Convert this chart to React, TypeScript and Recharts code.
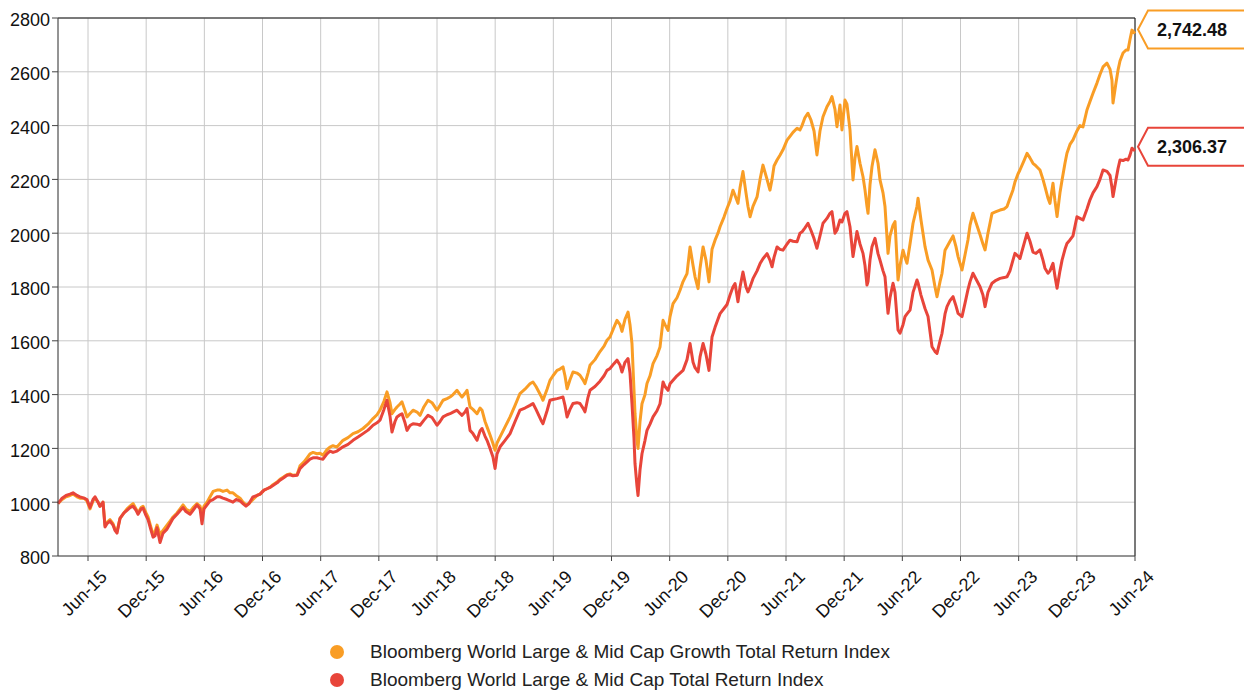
import {
  LineChart,
  Line,
  XAxis,
  YAxis,
  CartesianGrid,
  Legend,
  ReferenceLine,
} from "recharts";

// decimal years
const times = [
  2015.242, 2015.277, 2015.311, 2015.345, 2015.371, 2015.405, 2015.431, 2015.466, 2015.491, 2015.517,
  2015.543, 2015.56, 2015.586, 2015.603, 2015.629, 2015.646, 2015.663, 2015.689, 2015.715, 2015.732,
  2015.749, 2015.775, 2015.809, 2015.835, 2015.861, 2015.887, 2015.913, 2015.93, 2015.956, 2015.973,
  2015.999, 2016.016, 2016.042, 2016.059, 2016.076, 2016.093, 2016.119, 2016.145, 2016.179, 2016.205,
  2016.231, 2016.265, 2016.291, 2016.317, 2016.342, 2016.377, 2016.403, 2016.437, 2016.463, 2016.48,
  2016.497, 2016.523, 2016.549, 2016.575, 2016.609, 2016.635, 2016.66, 2016.695, 2016.721, 2016.746,
  2016.772, 2016.807, 2016.832, 2016.858, 2016.884, 2016.918, 2016.953, 2016.979, 2017.013, 2017.039,
  2017.064, 2017.09, 2017.125, 2017.15, 2017.185, 2017.211, 2017.236, 2017.262, 2017.297, 2017.322,
  2017.357, 2017.383, 2017.408, 2017.434, 2017.468, 2017.494, 2017.52, 2017.554, 2017.58, 2017.606,
  2017.64, 2017.692, 2017.735, 2017.778, 2017.821, 2017.864, 2017.907, 2017.95, 2017.984, 2018.01,
  2018.044, 2018.07, 2018.096, 2018.113, 2018.139, 2018.156, 2018.182, 2018.199, 2018.225, 2018.242,
  2018.268, 2018.294, 2018.328, 2018.354, 2018.388, 2018.423, 2018.457, 2018.5, 2018.526, 2018.552,
  2018.586, 2018.612, 2018.638, 2018.672, 2018.698, 2018.715, 2018.741, 2018.758, 2018.784, 2018.809,
  2018.844, 2018.87, 2018.887, 2018.913, 2018.93, 2018.956, 2018.981, 2018.999, 2019.016, 2019.042,
  2019.085, 2019.128, 2019.171, 2019.213, 2019.256, 2019.299, 2019.325, 2019.351, 2019.368, 2019.394,
  2019.411, 2019.446, 2019.471, 2019.497, 2019.532, 2019.557, 2019.583, 2019.6, 2019.618, 2019.643,
  2019.669, 2019.703, 2019.729, 2019.755, 2019.772, 2019.798, 2019.815, 2019.858, 2019.901, 2019.936,
  2019.961, 2019.987, 2020.021, 2020.047, 2020.073, 2020.09, 2020.116, 2020.142, 2020.159, 2020.176,
  2020.193, 2020.202, 2020.219, 2020.228, 2020.245, 2020.262, 2020.288, 2020.305, 2020.331, 2020.357,
  2020.391, 2020.417, 2020.443, 2020.46, 2020.486, 2020.503, 2020.529, 2020.563, 2020.589, 2020.615,
  2020.649, 2020.675, 2020.701, 2020.718, 2020.744, 2020.761, 2020.787, 2020.812, 2020.838, 2020.864,
  2020.89, 2020.915, 2020.933, 2020.967, 2020.993, 2021.019, 2021.044, 2021.062, 2021.087, 2021.105,
  2021.13, 2021.156, 2021.173, 2021.191, 2021.216, 2021.251, 2021.277, 2021.302, 2021.337, 2021.362,
  2021.38, 2021.397, 2021.423, 2021.448, 2021.474, 2021.509, 2021.534, 2021.56, 2021.595, 2021.62,
  2021.638, 2021.663, 2021.689, 2021.715, 2021.741, 2021.766, 2021.792, 2021.818, 2021.852, 2021.878,
  2021.895, 2021.921, 2021.938, 2021.964, 2021.981, 2022.007, 2022.024, 2022.05, 2022.076, 2022.093,
  2022.11, 2022.136, 2022.162, 2022.179, 2022.196, 2022.205, 2022.222, 2022.239, 2022.265, 2022.291,
  2022.308, 2022.334, 2022.351, 2022.377, 2022.394, 2022.42, 2022.437, 2022.463, 2022.48, 2022.506,
  2022.523, 2022.54, 2022.566, 2022.592, 2022.626, 2022.635, 2022.66, 2022.695, 2022.721, 2022.755,
  2022.781, 2022.798, 2022.824, 2022.841, 2022.867, 2022.884, 2022.91, 2022.936, 2022.961, 2022.979,
  2023.013, 2023.039, 2023.064, 2023.082, 2023.107, 2023.133, 2023.168, 2023.193, 2023.211, 2023.236,
  2023.271, 2023.305, 2023.34, 2023.374, 2023.4, 2023.425, 2023.451, 2023.468, 2023.494, 2023.511,
  2023.546, 2023.572, 2023.597, 2023.623, 2023.649, 2023.683, 2023.709, 2023.726, 2023.752, 2023.769,
  2023.795, 2023.812, 2023.83, 2023.855, 2023.873, 2023.898, 2023.915, 2023.941, 2023.967, 2024.001,
  2024.027, 2024.053, 2024.087, 2024.113, 2024.139, 2024.173, 2024.199, 2024.225, 2024.259, 2024.285,
  2024.302, 2024.311, 2024.337, 2024.354, 2024.371, 2024.397, 2024.423, 2024.44, 2024.457, 2024.474,
  2024.5,
];

const growth = [
  995, 1010, 1020, 1025, 1030, 1020, 1015, 1015, 1005, 975,
  1005, 1015, 1000, 985, 1000, 915, 925, 935, 920, 900,
  890, 940, 960, 975, 985, 995, 975, 960, 980, 985,
  960, 945, 905, 880, 890, 915, 880, 895, 915, 930,
  945, 960, 975, 990, 975, 965, 980, 995, 985, 960,
  985, 1000, 1020, 1040, 1045, 1045, 1040, 1045, 1035, 1035,
  1025, 1015, 1000, 990, 995, 1010, 1025, 1030, 1045, 1050,
  1055, 1065, 1075, 1085, 1095, 1102, 1105, 1100, 1102, 1135,
  1150, 1165, 1180, 1185, 1180, 1182, 1175, 1195, 1205, 1210,
  1205, 1230, 1240, 1255, 1262, 1274, 1290, 1311, 1325, 1342,
  1375, 1410, 1370, 1329, 1345, 1354, 1365, 1373, 1340, 1317,
  1330, 1342, 1335, 1323, 1355, 1379, 1370, 1342, 1360, 1379,
  1385, 1391, 1400, 1416, 1400, 1391, 1405, 1416, 1354, 1345,
  1329, 1350, 1342, 1300, 1280, 1250, 1218, 1193, 1220, 1243,
  1280, 1317, 1360, 1404, 1420, 1440, 1447, 1430, 1416, 1395,
  1379, 1420, 1453, 1470, 1490, 1495, 1503, 1470, 1422, 1455,
  1484, 1480, 1472, 1455, 1441, 1480, 1509, 1530, 1560, 1580,
  1602, 1614, 1650, 1676, 1660, 1635, 1680, 1707, 1660, 1590,
  1420, 1329, 1230, 1200, 1300, 1366, 1400, 1441, 1470, 1515,
  1545, 1577, 1676, 1660, 1639, 1690, 1738, 1760, 1788, 1820,
  1850, 1949, 1880, 1838, 1794, 1870, 1949, 1900, 1819, 1940,
  1974, 2000, 2024, 2060, 2092, 2120, 2160, 2140, 2111, 2170,
  2229, 2150, 2100, 2061, 2100, 2135, 2200, 2253, 2200, 2160,
  2200, 2250, 2272, 2290, 2310, 2346, 2360, 2375, 2390, 2384,
  2400, 2430, 2446, 2420, 2380, 2291, 2380, 2433, 2470, 2490,
  2508, 2460, 2396, 2477, 2384, 2495, 2480, 2384, 2198, 2280,
  2322, 2260, 2210, 2161, 2100, 2074, 2180, 2247, 2310, 2260,
  2198, 2150, 2099, 1925, 1990, 2030, 2043, 1826, 1880, 1937,
  1910, 1888, 1960, 2037, 2100, 2130, 2050, 1950, 1900, 1863,
  1800, 1764, 1820, 1851, 1937, 1950, 1970, 1990, 1950, 1913,
  1863, 1920, 1975, 2030, 2074, 2040, 1994, 1960, 1938, 2000,
  2074, 2080, 2086, 2090, 2099, 2130, 2161, 2190, 2220, 2235,
  2270, 2297, 2280, 2260, 2250, 2235, 2200, 2173, 2130, 2111,
  2186, 2120, 2062, 2150, 2198, 2260, 2297, 2330, 2347, 2380,
  2400, 2395, 2458, 2490, 2520, 2558, 2590, 2618, 2632, 2610,
  2569, 2484, 2560, 2606, 2640, 2670, 2681, 2681, 2720, 2755,
  2742.48,
];

const world = [
  995, 1015, 1025, 1030, 1035, 1025, 1020, 1015, 1010, 980,
  1010, 1020, 1000, 985, 1000, 908, 920, 930, 915, 895,
  885, 940, 960, 970, 980, 985, 970, 955, 975, 978,
  950, 935, 895, 870, 875, 905, 850, 885, 900, 920,
  940, 955, 968, 980, 965, 955, 970, 990, 975, 920,
  975, 990, 1005, 1010, 1020, 1020, 1015, 1010, 1005, 1000,
  1010, 1005, 995, 985, 995, 1020, 1025, 1030, 1045, 1050,
  1055, 1062, 1072, 1082, 1092, 1100, 1102, 1098, 1100, 1125,
  1140, 1150, 1160, 1165, 1165, 1162, 1160, 1180, 1190, 1185,
  1190, 1206, 1215, 1230, 1242, 1255, 1268, 1286, 1295, 1305,
  1345, 1379, 1320, 1261, 1300, 1317, 1325, 1329, 1295, 1267,
  1285, 1292, 1290, 1286, 1305, 1323, 1315, 1286, 1300, 1317,
  1325, 1329, 1335, 1342, 1330, 1323, 1335, 1348, 1267, 1255,
  1230, 1265, 1274, 1245, 1230, 1200, 1168, 1125, 1180, 1206,
  1230, 1255, 1300, 1342, 1350, 1360, 1367, 1345, 1329, 1305,
  1292, 1340, 1379, 1382, 1385, 1388, 1391, 1360, 1317, 1345,
  1367, 1370, 1367, 1350, 1336, 1390, 1416, 1430, 1450, 1470,
  1490, 1497, 1515, 1528, 1510, 1484, 1520, 1534, 1480, 1366,
  1240, 1143, 1060, 1025, 1120, 1180, 1230, 1267, 1290, 1317,
  1340, 1366, 1447, 1430, 1416, 1440, 1453, 1470, 1480, 1490,
  1530, 1590, 1520, 1500, 1484, 1540, 1590, 1550, 1490, 1614,
  1650, 1680, 1701, 1720, 1735, 1770, 1800, 1813, 1745, 1800,
  1856, 1800, 1782, 1800, 1831, 1860, 1887, 1905, 1924, 1900,
  1875, 1910, 1949, 1940, 1937, 1960, 1974, 1970, 1968, 2000,
  2005, 2020, 2037, 2010, 1980, 1944, 1990, 2037, 2055, 2074,
  2080, 2000, 2011, 2049, 2042, 2074, 2080, 2024, 1913, 1960,
  2006, 1960, 1925, 1880, 1807, 1820, 1900, 1950, 1981, 1924,
  1900, 1860, 1838, 1702, 1760, 1814, 1780, 1640, 1628, 1660,
  1690, 1700, 1714, 1780, 1826, 1815, 1770, 1720, 1690, 1578,
  1560, 1553, 1600, 1628, 1700, 1727, 1750, 1764, 1730, 1702,
  1690, 1740, 1790, 1820, 1851, 1830, 1801, 1770, 1727, 1780,
  1814, 1825, 1832, 1835, 1838, 1860, 1900, 1925, 1915, 1906,
  1960, 2000, 1970, 1930, 1925, 1938, 1900, 1870, 1851, 1860,
  1888, 1840, 1795, 1860, 1900, 1940, 1962, 1975, 1990, 2061,
  2055, 2049, 2090, 2124, 2150, 2173, 2200, 2235, 2230, 2215,
  2170, 2136, 2200, 2240, 2272, 2270, 2275, 2272, 2290, 2316,
  2306.37,
];

const xTicks = [
  2015.5, 2016, 2016.5, 2017, 2017.5, 2018, 2018.5, 2019, 2019.5, 2020,
  2020.5, 2021, 2021.5, 2022, 2022.5, 2023, 2023.5, 2024, 2024.5,
];
const xTickLabels = [
  "Jun-15", "Dec-15", "Jun-16", "Dec-16", "Jun-17", "Dec-17", "Jun-18", "Dec-18", "Jun-19", "Dec-19",
  "Jun-20", "Dec-20", "Jun-21", "Dec-21", "Jun-22", "Dec-22", "Jun-23", "Dec-23", "Jun-24",
];
const yTicks = [800, 1000, 1200, 1400, 1600, 1800, 2000, 2200, 2400, 2600, 2800];

const seriesNames = [
  "Bloomberg World Large & Mid Cap Growth Total Return Index",
  "Bloomberg World Large & Mid Cap Total Return Index",
];

const ORANGE = "#F99D25";
const RED = "#E8453A";
const FONT = "'Liberation Sans', Arial, sans-serif";

const data = times.map((t, i) => ({ t, growth: growth[i], world: world[i] }));

function XTick({ x, y, payload }: any) {
  const label = xTickLabels[xTicks.indexOf(payload.value)];
  const ax = x + 20;
  const ay = y + 17;
  return (
    <text
      x={ax}
      y={ay}
      textAnchor="end"
      fontSize={18}
      fontFamily={FONT}
      fill="#111"
      transform={`rotate(-45, ${ax}, ${ay})`}
    >
      {label}
    </text>
  );
}

function YTick({ x, y, payload }: any) {
  return (
    <text x={x} y={y + 2} dy="0.355em" textAnchor="end" fontSize={18} fontFamily={FONT} fill="#111">
      {payload.value}
    </text>
  );
}

// value tag drawn at the last point of a line
function endTag(color: string, last: number) {
  return (props: any) => {
    if (props.value !== last) return null;
    const px = props.x;
    const cy = props.y - 4;
    const txt = last.toLocaleString("en-US", { minimumFractionDigits: 2, maximumFractionDigits: 2 });
    return (
      <g>
        <path
          d={`M${px + 3},${cy} L${px + 13},${cy - 19} L${px + 140},${cy - 19} L${px + 140},${cy + 19} L${px + 13},${cy + 19} Z`}
          fill="#fff"
          stroke={color}
          strokeWidth={2}
        />
        <text x={px + 22} y={cy + 6.5} fontSize={18} fontWeight="bold" fontFamily={FONT} fill="#111">
          {txt}
        </text>
      </g>
    );
  };
}

function renderLegend() {
  const colors = [ORANGE, RED];
  return (
    <div style={{ position: "relative", height: 56, fontFamily: FONT, fontSize: 19, color: "#222" }}>
      {seriesNames.map((name, i) => (
        <div
          key={name}
          style={{ position: "absolute", top: i * 28, left: 0, height: 28, display: "flex", alignItems: "center" }}
        >
          <span
            style={{
              display: "inline-block",
              width: 14,
              height: 14,
              borderRadius: "50%",
              background: colors[i],
              marginLeft: 322,
            }}
          />
          <span style={{ marginLeft: 26, whiteSpace: "nowrap" }}>{name}</span>
        </div>
      ))}
    </div>
  );
}

export default function App() {
  return (
    <LineChart
      width={1244}
      height={690}
      data={data}
      margin={{ top: 10, right: 117, left: 0, bottom: 4 }}
    >
      <CartesianGrid stroke="#c8c8c8" strokeWidth={1} />
      <XAxis
        dataKey="t"
        type="number"
        domain={[2015.242, 2024.5]}
        ticks={xTicks}
        interval={0}
        height={82}
        tickSize={5}
        tickMargin={0}
        tick={<XTick />}
        axisLine={{ stroke: "#444" }}
        tickLine={{ stroke: "#444" }}
      />
      <YAxis
        type="number"
        domain={[800, 2800]}
        ticks={yTicks}
        interval={0}
        width={50}
        tickSize={6}
        tickMargin={2}
        tick={<YTick />}
        axisLine={{ stroke: "#444" }}
        tickLine={{ stroke: "#444" }}
      />
      <ReferenceLine y={2800} stroke="#111" strokeWidth={1} />
      <ReferenceLine x={2024.5} stroke="#111" strokeWidth={1} />
      <Legend
        verticalAlign="bottom"
        content={renderLegend}
        wrapperStyle={{ left: 0, width: 1244, height: 56, bottom: 4 }}
      />
      <Line
        type="linear"
        dataKey="growth"
        stroke={ORANGE}
        strokeWidth={3}
        strokeLinejoin="round"
        dot={false}
        isAnimationActive={false}
        label={endTag(ORANGE, 2742.48)}
      />
      <Line
        type="linear"
        dataKey="world"
        stroke={RED}
        strokeWidth={3}
        strokeLinejoin="round"
        dot={false}
        isAnimationActive={false}
        label={endTag(RED, 2306.37)}
      />
    </LineChart>
  );
}
